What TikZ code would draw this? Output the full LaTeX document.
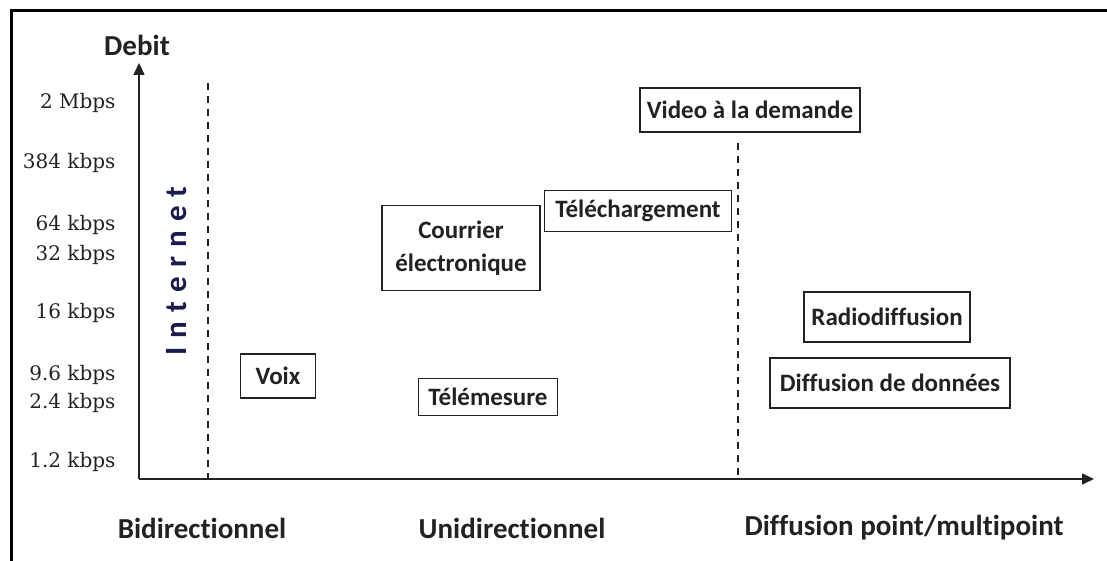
\documentclass[tikz,border=0pt]{standalone}
\usepackage{fontspec}
\setmainfont{DejaVu Serif}
\newfontfamily\labelfont[Ligatures=NoCommon]{Carlito}
\newfontfamily\spacedfont[LetterSpace=30]{Carlito}
\usepackage{xcolor}
\definecolor{InkGray}{HTML}{222222}
\definecolor{NetNavy}{HTML}{1B1B50}
\usetikzlibrary{arrows.meta, positioning}
\tikzset{
  % Box styles
  appbox/.style={rectangle, draw=InkGray, line width=1.5pt, fill=white, inner sep=2pt, font=\labelfont\bfseries\fontsize{25}{33}\selectfont, text=InkGray, align=center},
  modelabel/.style={font=\labelfont\bfseries\fontsize{29}{32}\selectfont, text=InkGray},
  ratelabel/.style={anchor=east, font=\fontsize{20}{24}\selectfont, text=InkGray},
  % Line styles
  axisarrow/.style={-{Triangle[length=12pt,width=11pt]}, line width=1.6pt, InkGray},
  sepline/.style={line width=1.4pt, InkGray, dash pattern=on 7pt off 6pt},
  frameline/.style={line width=3pt, black, line cap=rect}
}
\begin{document}
\begin{tikzpicture}[x=1pt, y=-1pt]
  \useasboundingbox (0,0) rectangle (1107,561);
  % Frame
  \draw[frameline] (11,570) -- (11,11) -- (1115,11);

  % Axes
  \coordinate (origin) at (139,479);
  \coordinate (ytip) at (139,63);
  \coordinate (xtip) at (1094,479);
  \draw[axisarrow] (origin) -- (ytip);
  \draw[axisarrow] (origin) -- (xtip);
  \node[modelabel] (debit) at (137,45) {Debit};

  % Rates
  \node[ratelabel] (r2m) at (119,103) {2 Mbps};
  \node[ratelabel] (r384) at (119,163) {384 kbps};
  \node[ratelabel] (r64) at (119,225) {64 kbps};
  \node[ratelabel] (r32) at (119,255) {32 kbps};
  \node[ratelabel] (r16) at (119,313) {16 kbps};
  \node[ratelabel] (r96) at (119,375) {9.6 kbps};
  \node[ratelabel] (r24) at (119,403) {2.4 kbps};
  \node[ratelabel] (r12) at (119,462) {1.2 kbps};

  % Separators
  \coordinate (biditop) at (208,83);
  \coordinate (bidibot) at (208,479);
  \coordinate (difftop) at (738,143);
  \coordinate (diffbot) at (738,477);
  \draw[sepline] (biditop) -- (bidibot);
  \draw[sepline] (difftop) -- (diffbot);
  \node[rotate=90, font=\spacedfont\bfseries\fontsize{31}{33}\selectfont, text=NetNavy] (internet) at (177,271) {Internet};

  % Services
  \node[appbox, minimum width=75pt, minimum height=44pt] (voix) at (278,376) {Voix};
  \node[appbox, minimum width=158pt, minimum height=85pt] (courrier) at (461,248) {Courrier\\électronique};
  \node[appbox, minimum width=187pt, minimum height=41pt] (telech) at (638,211) {Téléchargement};
  \node[appbox, minimum width=220pt, minimum height=44pt] (video) at (750,110) {Video à la demande};
  \node[appbox, minimum width=139pt, minimum height=37pt] (telemesure) at (488,397) {Télémesure};
  \node[appbox, minimum width=166pt, minimum height=50pt] (radio) at (887,317) {Radiodiffusion};
  \node[appbox, minimum width=240pt, minimum height=50pt] (donnees) at (890,383) {Diffusion de données};

  % Transmission modes
  \node[modelabel] (bidi) at (202,528) {Bidirectionnel};
  \node[modelabel] (uni) at (512,528) {Unidirectionnel};
  \node[modelabel] (multi) at (904,528) {Diffusion point/multipoint};
\end{tikzpicture}
\end{document}
